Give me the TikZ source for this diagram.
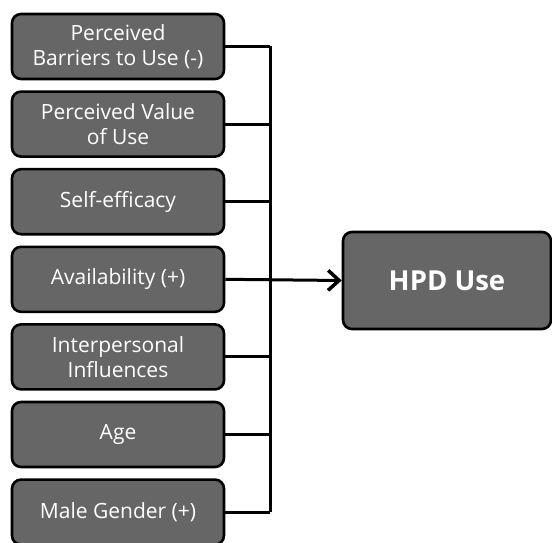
\documentclass[tikz,border=0pt]{standalone}
\usepackage{fontspec}
\setmainfont{Open Sans}
\usetikzlibrary{arrows.meta}
\definecolor{boxgray}{RGB}{102,102,102}
\begin{document}
\begin{tikzpicture}[x=1pt,y=1pt,
  factor/.style={draw=black,line width=2.6pt,fill=boxgray,rounded corners=9pt,
    minimum width=212pt,minimum height=65pt,inner sep=0pt,
    text=white,align=center,font=\fontsize{21}{24.5}\selectfont},
  outcome/.style={factor,minimum width=208pt,minimum height=97pt,
    font=\fontsize{27.5}{32}\selectfont\bfseries},
  link/.style={line width=3pt}]
\useasboundingbox (0,0) rectangle (552,542);
\clip (0,0) rectangle (552,542);
% predictors
\foreach \i/\t in {1/{Perceived\\Barriers to Use (-)},2/{Perceived Value\\of Use},
  3/{Self-efficacy},4/{Availability (+)},5/{Interpersonal\\Influences},
  6/{Age},7/{Male Gender (+)}}
  \node[factor] (f\i) at (118,{495.5-77.6*(\i-1)}) {\t};
\coordinate (bar) at (270,0);
\foreach \i in {1,2,3,5,6,7}
  \draw[link] (f\i.east) -- (f\i.east -| bar);
\draw[link] (f1.east -| bar) -- (f7.east -| bar);
% outcome
\node[outcome] (hpd) at (447,261.5) {HPD Use};
\draw[link,-{Straight Barb[length=11pt,width=20pt,line width=3.5pt]}] (f4.east) -- (hpd.west);
\end{tikzpicture}
\end{document}
